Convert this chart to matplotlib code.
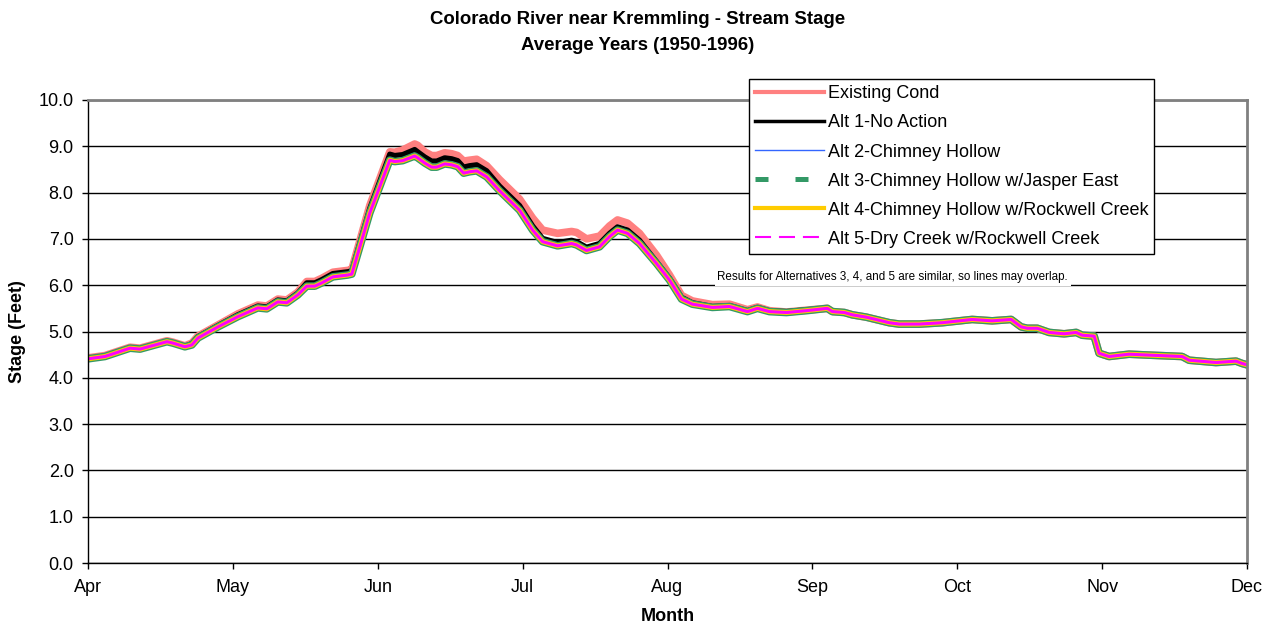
import matplotlib
matplotlib.use('Agg')
import matplotlib.pyplot as plt
from matplotlib.lines import Line2D
import numpy as np

plt.rcParams['font.family'] = ['Liberation Sans', 'DejaVu Sans']

# x positions in months after Apr 1 (0 = Apr, 8 = Dec)
month_pos = [0.00, 0.117, 0.290, 0.359, 0.545, 0.586, 0.669, 0.717, 0.759, 0.897,
             1.034, 1.172, 1.234, 1.310, 1.372, 1.448, 1.510, 1.566, 1.614, 1.690,
             1.793, 1.821, 1.945, 2.083, 2.117, 2.172, 2.255, 2.276, 2.324, 2.372,
             2.407, 2.462, 2.510, 2.552, 2.593, 2.634, 2.683, 2.752, 2.841, 2.979,
             3.069, 3.138, 3.241, 3.338, 3.372, 3.441, 3.531, 3.600, 3.655, 3.724,
             3.807, 3.924, 4.014, 4.097, 4.172, 4.310, 4.428, 4.552, 4.621, 4.703,
             4.821, 4.959, 5.103, 5.138, 5.221, 5.276, 5.372, 5.531, 5.600, 5.738,
             5.897, 6.014, 6.103, 6.241, 6.372, 6.441, 6.483, 6.552, 6.634, 6.738,
             6.821, 6.862, 6.945, 6.979, 7.048, 7.186, 7.324, 7.552, 7.600, 7.786,
             7.924, 7.966, 8.000]

existing_cond = [4.43, 4.48, 4.66, 4.64, 4.80, 4.77, 4.69, 4.75, 4.90, 5.14,
                 5.38, 5.57, 5.55, 5.70, 5.68, 5.85, 6.08, 6.08, 6.15, 6.28,
                 6.32, 6.34, 7.72, 8.88, 8.87, 8.92, 9.05, 9.02, 8.88, 8.80,
                 8.80, 8.86, 8.84, 8.80, 8.68, 8.70, 8.72, 8.58, 8.28, 7.86,
                 7.45, 7.19, 7.12, 7.16, 7.14, 7.00, 7.06, 7.28, 7.41, 7.34,
                 7.12, 6.65, 6.22, 5.78, 5.66, 5.58, 5.59, 5.47, 5.53, 5.45,
                 5.42, 5.46, 5.50, 5.43, 5.41, 5.36, 5.31, 5.19, 5.16, 5.16,
                 5.19, 5.23, 5.26, 5.23, 5.26, 5.10, 5.07, 5.07, 4.98, 4.95,
                 4.98, 4.92, 4.90, 4.53, 4.46, 4.51, 4.49, 4.46, 4.38, 4.33,
                 4.36, 4.31, 4.28]

alt1_no_action = [4.42, 4.47, 4.65, 4.63, 4.79, 4.76, 4.68, 4.74, 4.89, 5.13,
                  5.36, 5.55, 5.53, 5.68, 5.66, 5.83, 6.05, 6.05, 6.12, 6.25,
                  6.29, 6.31, 7.66, 8.83, 8.80, 8.82, 8.93, 8.88, 8.77, 8.68,
                  8.68, 8.75, 8.73, 8.69, 8.55, 8.58, 8.60, 8.47, 8.14, 7.72,
                  7.28, 7.01, 6.92, 6.97, 6.94, 6.82, 6.90, 7.12, 7.26, 7.19,
                  6.97, 6.51, 6.15, 5.74, 5.62, 5.54, 5.56, 5.45, 5.52, 5.45,
                  5.43, 5.47, 5.50, 5.43, 5.41, 5.36, 5.31, 5.19, 5.16, 5.16,
                  5.19, 5.23, 5.26, 5.23, 5.26, 5.10, 5.07, 5.07, 4.98, 4.95,
                  4.98, 4.92, 4.90, 4.53, 4.46, 4.51, 4.49, 4.46, 4.38, 4.33,
                  4.36, 4.31, 4.28]

alt2_chimney = [4.41, 4.46, 4.64, 4.62, 4.78, 4.75, 4.67, 4.71, 4.86, 5.10,
                5.32, 5.51, 5.49, 5.64, 5.62, 5.79, 5.98, 5.98, 6.05, 6.18,
                6.22, 6.24, 7.54, 8.68, 8.65, 8.67, 8.77, 8.73, 8.62, 8.53,
                8.53, 8.60, 8.58, 8.54, 8.40, 8.43, 8.45, 8.32, 8.02, 7.60,
                7.17, 6.92, 6.83, 6.88, 6.85, 6.73, 6.81, 7.03, 7.17, 7.10,
                6.88, 6.47, 6.11, 5.70, 5.59, 5.52, 5.54, 5.43, 5.50, 5.43,
                5.41, 5.45, 5.50, 5.43, 5.41, 5.36, 5.31, 5.19, 5.16, 5.16,
                5.19, 5.23, 5.26, 5.23, 5.26, 5.10, 5.07, 5.07, 4.98, 4.95,
                4.98, 4.92, 4.90, 4.53, 4.46, 4.51, 4.49, 4.46, 4.38, 4.33,
                4.36, 4.31, 4.28]

# alternatives 3, 4 and 5 give (nearly) the same stage
alt_3_4_5 = [4.41, 4.46, 4.64, 4.62, 4.78, 4.75, 4.67, 4.71, 4.86, 5.10,
             5.32, 5.51, 5.49, 5.64, 5.62, 5.79, 5.98, 5.98, 6.05, 6.18,
             6.22, 6.24, 7.56, 8.70, 8.67, 8.69, 8.79, 8.75, 8.64, 8.55,
             8.55, 8.62, 8.60, 8.56, 8.42, 8.45, 8.47, 8.34, 8.04, 7.62,
             7.19, 6.94, 6.85, 6.90, 6.87, 6.75, 6.83, 7.05, 7.19, 7.12,
             6.90, 6.47, 6.11, 5.70, 5.59, 5.52, 5.54, 5.43, 5.50, 5.43,
             5.41, 5.45, 5.50, 5.43, 5.41, 5.36, 5.31, 5.19, 5.16, 5.16,
             5.19, 5.23, 5.26, 5.23, 5.26, 5.10, 5.07, 5.07, 4.98, 4.95,
             4.98, 4.92, 4.90, 4.53, 4.46, 4.51, 4.49, 4.46, 4.38, 4.33,
             4.36, 4.31, 4.28]

month_labels = ['Apr', 'May', 'Jun', 'Jul', 'Aug', 'Sep', 'Oct', 'Nov', 'Dec']
series_labels = ['Existing Cond', 'Alt 1-No Action', 'Alt 2-Chimney Hollow',
                 'Alt 3-Chimney Hollow w/Jasper East',
                 'Alt 4-Chimney Hollow w/Rockwell Creek',
                 'Alt 5-Dry Creek w/Rockwell Creek']
note = 'Results for Alternatives 3, 4, and 5 are similar, so lines may overlap.'

pink = '#FF8080'
blue = '#3366FF'
green = '#339966'
yellow = '#FFCC00'
magenta = '#FF00FF'

fig = plt.figure(figsize=(12.75, 6.32), dpi=100)
ax = fig.add_axes([88 / 1275, 1 - 563 / 632, (1247 - 88) / 1275, (563 - 100) / 632])

ax.plot(month_pos, existing_cond, color=pink, lw=5.5)
ax.plot(month_pos, alt1_no_action, color='black', lw=3.8)
ax.plot(month_pos, alt2_chimney, color=blue, lw=1)
ax.plot(month_pos, alt_3_4_5, color=green, lw=5.5)
ax.plot(month_pos, alt_3_4_5, color=yellow, lw=3.6)
ax.plot(month_pos, alt_3_4_5, color=magenta, lw=2.2)

ax.set_xlim(0, 8)
ax.set_ylim(0, 10)
ax.set_xticks(np.arange(9))
ax.set_xticklabels(month_labels)
ax.set_yticks(np.arange(0, 11))
ax.set_yticklabels(['%.1f' % v for v in range(11)])
ax.tick_params(labelsize=13, length=4.3, width=1, direction='out')
ax.tick_params(axis='y', pad=6)
ax.tick_params(axis='x', pad=7)

ax.set_axisbelow(True)
ax.yaxis.grid(True, color='black', lw=1)
for s in ['top', 'right']:
    ax.spines[s].set_color('#808080')
    ax.spines[s].set_linewidth(2)
for s in ['left', 'bottom']:
    ax.spines[s].set_color('black')
    ax.spines[s].set_linewidth(1)

ax.text(4.345, 6.18, note, fontsize=8.4, va='center', ha='left',
        bbox=dict(facecolor='white', edgecolor='none', pad=2))

ax.set_ylabel('Stage (Feet)', fontsize=13, fontweight='bold')
ax.yaxis.set_label_coords(-0.0535, 0.5)
ax.set_xlabel('Month', fontsize=13, fontweight='bold')
ax.xaxis.set_label_coords(0.5, -0.098)

fig.text(0.5, 1 - 20 / 632, 'Colorado River near Kremmling - Stream Stage',
         ha='center', va='center', fontsize=13.4, fontweight='bold')
fig.text(0.5, 1 - 45 / 632, 'Average Years (1950-1996)',
         ha='center', va='center', fontsize=13.4, fontweight='bold')

handles = [
    Line2D([], [], color=pink, lw=3),
    Line2D([], [], color='black', lw=2.5),
    Line2D([], [], color=blue, lw=1),
    Line2D([], [], color=green, lw=3.6, dashes=(2.6, 5.4)),
    Line2D([], [], color=yellow, lw=3),
    Line2D([], [], color=magenta, lw=1.5, dashes=(7.7, 3.8)),
]
leg = fig.legend(handles, series_labels, loc='upper left',
                 bbox_to_anchor=(749 / 1275, 1 - 79 / 632),
                 bbox_transform=fig.transFigure, borderaxespad=0,
                 fontsize=13, handlelength=3.8, handletextpad=0.2,
                 labelspacing=0.67, borderpad=0.35, fancybox=False,
                 framealpha=1, edgecolor='black')
leg.get_frame().set_linewidth(1)

fig.savefig('out.png', dpi=100)
